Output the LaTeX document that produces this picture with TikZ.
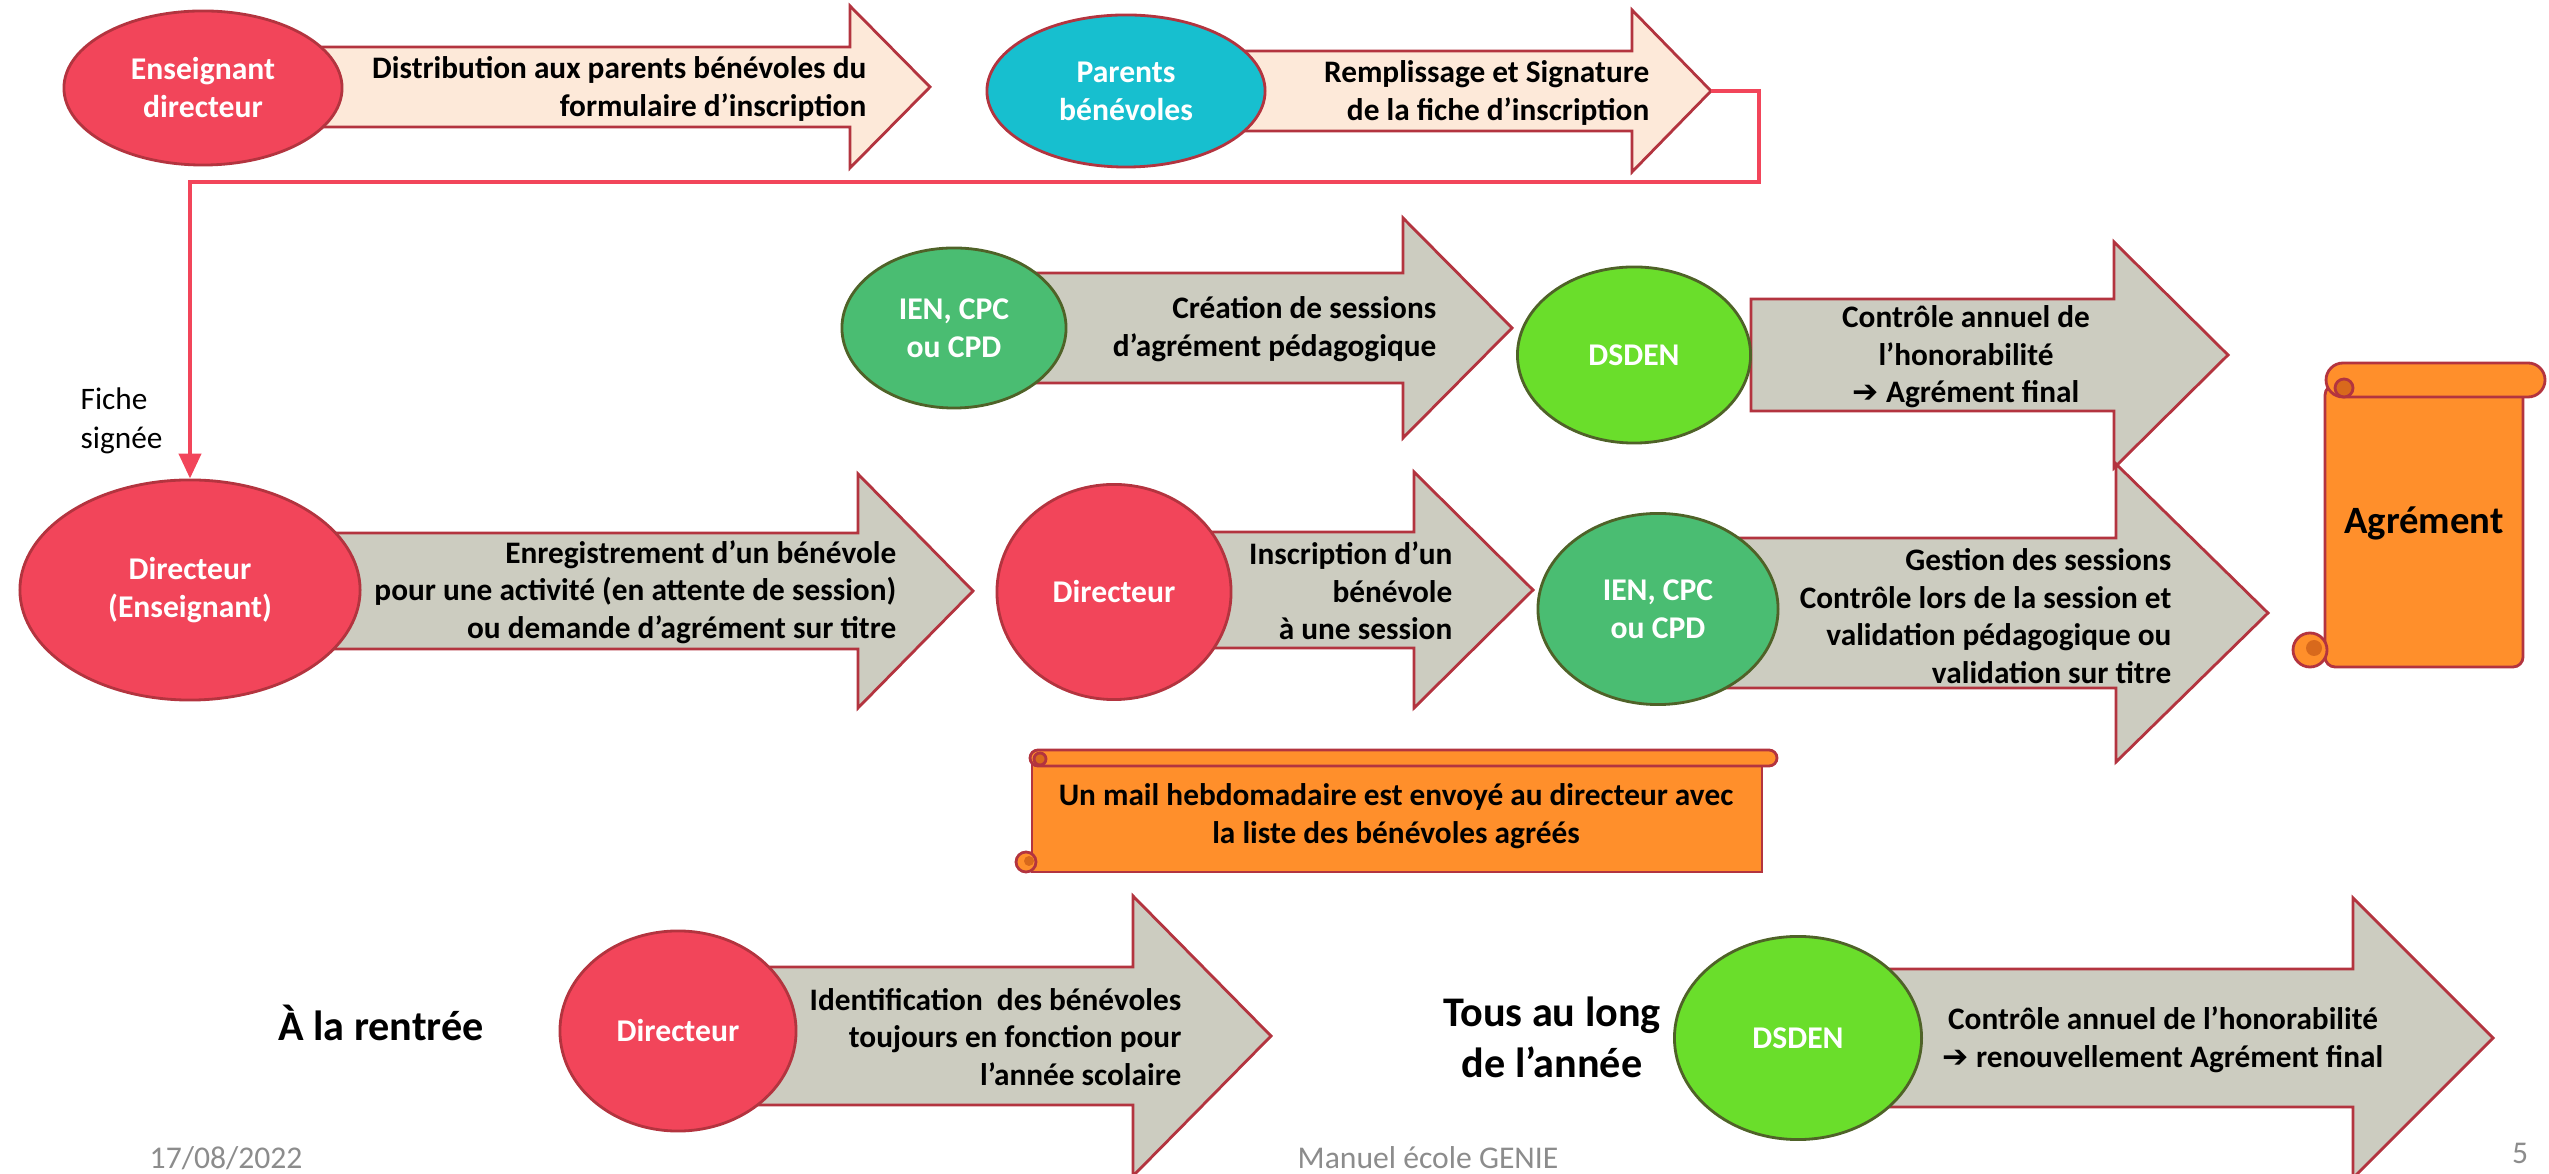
\documentclass[tikz,border=0pt]{standalone}
\usepackage{fontspec}
\setmainfont{Carlito}
\newfontfamily\symb{DejaVu Sans}
\usepackage{tikz}
\usetikzlibrary{shapes.geometric}
\usetikzlibrary{arrows.meta}

\definecolor{rouge}{HTML}{F2455A}
\definecolor{rougebord}{HTML}{B3343F}
\definecolor{turquoise}{HTML}{17BFCF}
\definecolor{vert}{HTML}{4ABD72}
\definecolor{vertclair}{HTML}{6ADE2B}
\definecolor{vertbord}{HTML}{4F6228}
\definecolor{peche}{HTML}{FDE9D9}
\definecolor{grisfl}{HTML}{CCCCC0}
\definecolor{orangerl}{HTML}{FF8F2B}
\definecolor{orangefonce}{HTML}{D8691C}
\definecolor{grispied}{HTML}{8C8C8C}

% grosse fleche : [style]{gauche}{base pointe}{pointe}{milieu}{demi corps}{demi pointe}
\newcommand{\fleche}[7][]{\draw[#1] (#2,#5-#6) -- (#3,#5-#6) -- (#3,#5-#7) -- (#4,#5) -- (#3,#5+#7) -- (#3,#5+#6) -- (#2,#5+#6) -- cycle;}

\begin{document}
\begin{tikzpicture}[x=0.01cm,y=-0.01cm,
  bulle/.style={ellipse,draw=rougebord,line width=0.8pt,inner sep=0pt,text=white,align=center,font=\fontsize{9}{10.8}\selectfont\bfseries},
  bullevert/.style={bulle,draw=vertbord},
  fl/.style={draw=rougebord,line width=0.8pt,fill=grisfl,line join=miter},
  flpeche/.style={fl,fill=peche},
  txt/.style={inner sep=0pt,anchor=east,align=right,font=\fontsize{8.9}{10.7}\selectfont\bfseries},
  grand/.style={inner sep=0pt,align=center,font=\fontsize{12}{14.5}\selectfont\bfseries},
  rouleau/.style={draw=rougebord,line width=0.8pt,fill=orangerl},
  pied/.style={inner sep=0pt,text=grispied,font=\fontsize{9}{11}\selectfont},
  lien/.style={draw=rouge,line width=1.2pt,-{Triangle[length=0.25cm,width=0.22cm]}}]
\useasboundingbox (0,0) rectangle (2549,1174);

%%% ligne du haut %%%
\fleche[flpeche]{300}{850}{930}{87}{40}{81}
\fleche[flpeche]{1220}{1632}{1711}{91}{40}{81}
\coordinate (pointe2) at (1711,91);
\coordinate (coin) at (1759,182);
\node[bulle,fill=rouge,minimum width=2.78cm,minimum height=1.54cm] (ens) at (203,88) {Enseignant\\directeur};
\node[bulle,fill=turquoise,minimum width=2.78cm,minimum height=1.52cm] (par) at (1126,91) {Parents\\bénévoles};
\node[txt] (t1) at (867,89) {Distribution aux parents bénévoles du\\formulaire d’inscription};
\node[txt] (t2) at (1650,93) {Remplissage et Signature\\de la fiche d’inscription};

%%% fleches grises %%%
\fleche[fl]{1030}{1403}{1512}{328}{55}{110}
\fleche[fl]{1751}{2114}{2228}{355}{56}{113}
\fleche[fl]{300}{858}{973}{591}{58}{117}
\fleche[fl]{1180}{1414}{1533}{590}{58}{118}
\fleche[fl]{1720}{2116}{2268}{613}{75}{149}
\fleche[fl]{740}{1133}{1271}{1036}{69}{140}
\fleche[fl]{1860}{2353}{2493}{1038}{69}{140}

\node[bullevert,fill=vert,minimum width=2.24cm,minimum height=1.6cm] (ien1) at (954,328) {IEN, CPC\\ou CPD};
\node[bullevert,fill=vertclair,minimum width=2.33cm,minimum height=1.76cm] (dsden1) at (1634,355) {DSDEN};
\node[bulle,fill=rouge,minimum width=3.4cm,minimum height=2.2cm] (dir1) at (190,590) {Directeur\\(Enseignant)};
\node[bulle,fill=rouge,minimum width=2.34cm,minimum height=2.15cm] (dir2) at (1114,592) {Directeur};
\node[bullevert,fill=vert,minimum width=2.4cm,minimum height=1.91cm] (ien2) at (1658,609) {IEN, CPC\\ou CPD};
\node[bulle,fill=rouge,minimum width=2.36cm,minimum height=2cm] (dir3) at (678,1031) {Directeur};
\node[bullevert,fill=vertclair,minimum width=2.47cm,minimum height=2.03cm] (dsden2) at (1798,1038) {DSDEN};

\node[txt] (t5) at (1437,329) {Création de sessions\\d’agrément pédagogique};
\node[txt,anchor=center,align=center] (t6) at (1966,357) {Contrôle annuel de\\l’honorabilité\\{\symb\bfseries ➔} Agrément final};
\node[txt] (t3) at (897,592) {Enregistrement d’un bénévole\\pour une activité (en attente de session)\\ou demande d’agrément sur titre};
\node[txt] (t4) at (1453,591) {Inscription d’un\\bénévole\\à une session};
\node[txt] (t7) at (2172,616) {Gestion des sessions\\Contrôle lors de la session et\\validation pédagogique ou\\validation sur titre};
\node[txt] (t8) at (1182,1037) {Identification\ \ des bénévoles\\toujours en fonction pour\\l’année scolaire};
\node[txt,anchor=center,align=center] (t9) at (2163,1040) {Contrôle annuel de l’honorabilité\\{\symb\bfseries ➔} renouvellement Agrément final};

%%% fiche signee %%%
\draw[lien] (pointe2) -| (coin) -| (dir1.north);
\node[inner sep=0pt,anchor=west,align=left,font=\fontsize{8.9}{11}\selectfont] (fiche) at (80,421) {Fiche\\signée};

%%% rouleau agrement %%%
\draw[rouleau,rounded corners=0.1cm] (2325,385) |- (2523,667) -- (2523,385) -- cycle;
\draw[rouleau,rounded corners=0.17cm] (2326,363) rectangle (2545,397);
\draw[rouleau,fill=orangefonce] (2344,388) circle (9);
\draw[rouleau] (2310,650) circle (17);
\fill[orangefonce] (2314,648) circle (8);
\node[inner sep=0pt,font=\fontsize{11}{13}\selectfont\bfseries] (agr) at (2424,523) {Agrément};

%%% rouleau mail %%%
\draw[rouleau] (1032,760) rectangle (1762,872);
\draw[rouleau,rounded corners=0.08cm] (1030,750) rectangle (1777,766);
\draw[rouleau,fill=orangefonce] (1040,759) circle (6);
\draw[rouleau] (1026,862) circle (10);
\fill[orangefonce] (1029,861) circle (5);
\node[txt,anchor=center,align=center] (mail) at (1396,816) {Un mail hebdomadaire est envoyé au directeur avec\\la liste des bénévoles agréés};

%%% en bas %%%
\node[grand] (rentree) at (381,1023) {À la rentrée};
\node[grand] (annee) at (1552,1037) {Tous au long\\de l’année};
\node[pied,anchor=west] (date) at (149,1158) {17/08/2022};
\node[pied,anchor=west] (manuel) at (1297,1158) {Manuel école GENIE};
\node[pied] (num) at (2520,1153) {5};
\end{tikzpicture}
\end{document}
